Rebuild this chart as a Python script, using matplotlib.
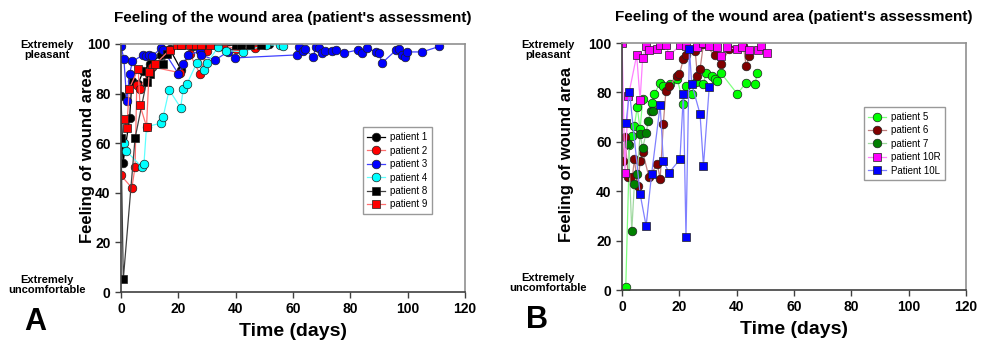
import matplotlib
matplotlib.use("Agg")
import matplotlib.pyplot as plt

plt.rcParams['font.family'] = ['Liberation Sans', 'DejaVu Sans']

# ---------------- Panel A data ----------------
p1_days = [0, 0.7, 3, 3.8, 6, 7.7, 10, 14, 17, 21, 25, 30, 35, 42, 48, 51.6]
p1_vals = [79, 52, 70, 85, 84, 89, 92, 95.6, 98, 89.5, 99, 100, 99, 100, 100, 100]

p2_days = [0, 3.8, 4.9, 5.5, 6.6, 10.7, 20.6, 24, 27.5, 30, 35.6, 40, 46.7]
p2_vals = [47, 42, 50.4, 83.5, 82, 90.8, 88.4, 96, 88, 97, 99.6, 98, 98.4]

p3_days = [0, 1, 2, 3, 4, 7.7, 8.7, 9.8, 10.7, 14, 14.7, 20, 21.7, 23.3, 27.5, 28,
           32.8, 37.3, 39.8, 61.4, 62, 63.5, 64, 67, 68, 69, 70, 71, 73.6, 75, 77.8,
           82.7, 84, 85.8, 89, 90, 91, 96, 97, 98, 99, 99.8, 105, 111]
p3_vals = [99, 94, 77, 88, 93, 95.6, 95, 95.6, 95, 98.3, 97.6, 88, 92, 95.6, 97, 95.6,
           93.5, 96.9, 94.4, 95.6, 98.8, 97, 98, 94.8, 98.8, 98.4, 96.4, 97, 97, 97.6, 96.4,
           97.6, 96.4, 98.4, 96.8, 96.4, 92.3, 97.6, 98, 95.6, 94.8, 96.8, 96.8, 99]

p4_days = [1, 1.7, 7.2, 8, 8.9, 13.8, 14.7, 16.8, 20.8, 21.7, 23, 26.4, 29, 29.9,
           34, 36.6, 42.6, 50.5, 55.5, 56.5]
p4_vals = [60, 57, 50.5, 51.6, 66.7, 68, 70.7, 81.5, 74.3, 81.8, 83.9, 92.3, 89.5, 92.2,
           98.9, 97.3, 96.9, 99.6, 99.6, 99.2]

p8_days = [0, 0.8, 4.9, 8.9, 10, 14.7, 16, 21, 25, 28, 40, 42, 45, 49]
p8_vals = [62, 5.2, 62, 84.8, 88, 92, 96, 99.6, 99.6, 99.6, 99.6, 99.6, 99.6, 99.6]

p9_days = [1, 2, 2.9, 6, 6.6, 8.9, 9.8, 12, 17, 19.4, 21, 24, 26, 28, 31]
p9_vals = [69.8, 66, 82, 90, 75.4, 66.7, 88.8, 92, 97.6, 99.6, 99.6, 99.6, 99.6, 99.6, 99.6]

# ---------------- Panel B data ----------------
p5_days = [1.3, 2.6, 3.4, 4.3, 5.3, 6.3, 7.2, 10.3, 11.3, 13.3, 14.4, 16.7, 19.3, 21.4,
           22.3, 24.3, 25.8, 28.4, 29.3, 31.3, 32.4, 33.2, 34.4, 40.2, 43.3, 46.4, 47.2]
p5_vals = [1.3, 58.7, 62.3, 66.4, 74, 65, 77.2, 75.8, 79.4, 84, 82.6, 83.4, 85.3, 75.3,
           82.6, 79.4, 84.3, 83.4, 88, 86.6, 85.3, 84.7, 88, 79.4, 84, 83.4, 88]

p6_days = [0.2, 1, 2.2, 3.6, 4.3, 5.5, 6.3, 7.2, 9.4, 12.3, 13.3, 14.4, 15.3, 16.5, 19.1,
           20, 21.4, 22.3, 25.5, 26.3, 27.2, 28.4, 32.4, 34.4, 37.4, 42.3, 43.3, 44.4]
p6_vals = [52.3, 61.8, 45.6, 45.6, 52.9, 42.1, 52.3, 56, 45.6, 51, 45, 67.2, 80.7, 82.6,
           86.6, 87.4, 93.4, 95.1, 96.9, 86.6, 89.3, 99.6, 95.1, 91.5, 97.5, 98.8, 90.7, 94.7]

p7_days = [2.2, 3.4, 4.3, 5.3, 6.3, 7.2, 8.4, 9.2, 10, 10.9]
p7_vals = [59, 24, 42.9, 47, 63.2, 57.4, 63.7, 68.5, 72.6, 72.6]

p10r_days = [0, 1, 2.2, 5.1, 6.3, 7.2, 8.4, 9.5, 12.3, 13.3, 15.3, 16.5, 20.2, 22.3, 26.3,
             28.4, 30.4, 33.2, 34.4, 36.5, 40.2, 41.7, 44.4, 47.5, 48.4, 50.5]
p10r_vals = [100, 47.5, 78.5, 95, 77, 94, 98.8, 97, 97.5, 99, 99, 95, 99, 98.8, 98.2,
             100, 98.8, 98.2, 94.7, 98.2, 97.5, 98.2, 97, 97, 98.8, 96]

p10l_days = [1.4, 2.6, 6.3, 8.4, 10.3, 13.3, 14.4, 16.4, 20.2, 21.4, 22.3, 23.5, 24.3,
             27.2, 28.4, 30.4]
p10l_vals = [67.7, 80.3, 38.9, 25.9, 46.8, 74.9, 52.2, 47.5, 52.9, 79.4, 21.3, 97.5, 83.4,
             71.3, 50.3, 82]

x_ticks = [0, 20, 40, 60, 80, 100, 120]
y_ticks = [0, 20, 40, 60, 80, 100]
title_text = "Feeling of the wound area (patient's assessment)"

fig = plt.figure(figsize=(9.83, 3.5), dpi=100)
axA = fig.add_axes([0.1231, 0.1657, 0.3500, 0.7086])
axB = fig.add_axes([0.6328, 0.1714, 0.3500, 0.7057])

seriesA = [
    ("patient 1", p1_days, p1_vals, 'o', 'black', 'black'),
    ("patient 2", p2_days, p2_vals, 'o', 'red', '#ff7070'),
    ("patient 3", p3_days, p3_vals, 'o', '#0000ff', '#4040ff'),
    ("patient 4", p4_days, p4_vals, 'o', '#00ffff', '#60ffff'),
    ("patient 8", p8_days, p8_vals, 's', 'black', '#404040'),
    ("patient 9", p9_days, p9_vals, 's', 'red', '#ff7070'),
]
seriesB = [
    ("patient 5", p5_days, p5_vals, 'o', '#00ff00', '#80ff80'),
    ("patient 6", p6_days, p6_vals, 'o', '#800000', '#c08080'),
    ("patient 7", p7_days, p7_vals, 'o', '#008000', '#a0d8a0'),
    ("patient 10R", p10r_days, p10r_vals, 's', '#ff00ff', '#ff80ff'),
    ("Patient 10L", p10l_days, p10l_vals, 's', '#0000ff', '#8080ff'),
]

def draw(ax, series, legend_loc, ylab_x):
    for name, d, v, m, fc, lc in series:
        ax.plot(d, v, color=lc, lw=0.9, marker=m, markersize=6.2 if m == 'o' else 5.6,
                markerfacecolor=fc, markeredgecolor='#202020', markeredgewidth=0.5,
                label=name)
    ax.set_xlim(0, 120)
    ax.set_ylim(0, 100)
    ax.set_xticks(x_ticks)
    ax.set_yticks(y_ticks)
    ax.tick_params(axis='both', direction='out', length=4, width=1, labelsize=10, color='#404040')
    for lab in ax.get_xticklabels() + ax.get_yticklabels():
        lab.set_fontweight('bold')
    for s in ['top', 'right']:
        ax.spines[s].set_color('#909090')
        ax.spines[s].set_linewidth(1.2)
    for s in ['left', 'bottom']:
        ax.spines[s].set_color('#404040')
        ax.spines[s].set_linewidth(1.2)
    ax.set_xlabel("Time (days)", fontsize=14, fontweight='bold', labelpad=5)
    ax.set_ylabel("Feeling of wound area", fontsize=12, fontweight='bold')
    ax.yaxis.set_label_coords(ylab_x, 0.55)
    ax.set_title(title_text, fontsize=11, fontweight='bold', pad=16)
    leg = ax.legend(loc='upper left', bbox_to_anchor=legend_loc, fontsize=7,
                    frameon=True, fancybox=False, edgecolor='#808080',
                    handlelength=1.8, borderpad=0.5, labelspacing=0.35,
                    handletextpad=0.5)
    leg.get_frame().set_linewidth(1.0)

draw(axA, seriesA, (0.688, 0.683), -0.076)
draw(axB, seriesB, (0.688, 0.76), -0.14)

fig.text(47 / 983, 1 - 50 / 350, "Extremely\npleasant", ha='center', va='center',
         fontsize=8, fontweight='bold', linespacing=1.1)
fig.text(47 / 983, 1 - 285 / 350, "Extremely\nuncomfortable", ha='center', va='center',
         fontsize=8, fontweight='bold', linespacing=1.1)
fig.text(548 / 983, 1 - 50 / 350, "Extremely\npleasant", ha='center', va='center',
         fontsize=8, fontweight='bold', linespacing=1.1)
fig.text(548 / 983, 1 - 283 / 350, "Extremely\nuncomfortable", ha='center', va='center',
         fontsize=8, fontweight='bold', linespacing=1.1)

fig.text(35 / 983, 1 - 322 / 350, "A", ha='center', va='center', fontsize=22, fontweight='bold')
fig.text(537 / 983, 1 - 320 / 350, "B", ha='center', va='center', fontsize=22, fontweight='bold')

fig.savefig("out.png", dpi=100)
